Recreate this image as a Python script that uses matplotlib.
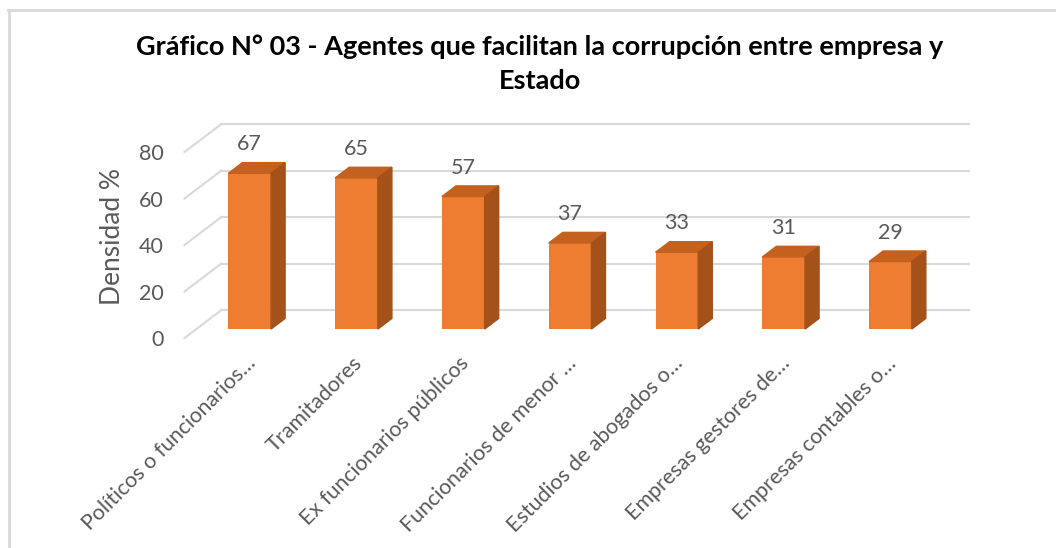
import matplotlib
matplotlib.use("Agg")
import matplotlib.pyplot as plt
from matplotlib.patches import Polygon
from matplotlib.lines import Line2D

# data
categories = [
    "Políticos o funcionarios…",
    "Tramitadores",
    "Ex funcionarios públicos",
    "Funcionarios de menor …",
    "Estudios de abogados o…",
    "Empresas gestores de…",
    "Empresas contables o…",
]
values = [67, 65, 57, 37, 33, 31, 29]
yticks = [0, 20, 40, 60, 80]

title = "Gráfico N° 03 - Agentes que facilitan la corrupción entre empresa y\nEstado"
ylabel = "Densidad %"

plt.rcParams['font.family'] = ['Lato', 'DejaVu Sans']

# fake 3D look: depth vector of the floor in data units
DX, DY = 0.346, 12.04
T0, TD = 0.32, 0.38       # bar front position / bar depth as fraction of floor depth
BW = 0.40                 # bar width

front = '#ED7D31'
top_c = '#C4611E'
side_c = '#A4511A'
grid_c = '#D9D9D9'
text_c = '#595959'

fig = plt.figure(figsize=(10.56, 5.48), dpi=100)
ax = fig.add_axes([0.1747, 0.3832, 0.7429, 0.3905])
n = len(values)
ax.set_xlim(-0.5, n - 0.5 + DX)
ax.set_ylim(0, max(yticks) + DY)
for s in ax.spines.values():
    s.set_visible(False)

# gridlines: diagonal on the left wall + horizontal on the back wall
for v in yticks:
    ax.plot([-0.5, -0.5 + DX], [v, v + DY], color=grid_c, lw=1.5, zorder=1, clip_on=False)
    ax.plot([-0.5 + DX, n - 0.5 + DX], [v + DY, v + DY], color=grid_c, lw=1.5, zorder=1, clip_on=False)

base = T0 * DY
ddx, ddy = TD * DX, TD * DY
for i, v in enumerate(values):
    xc = i + T0 * DX
    xl, xr = xc - BW / 2, xc + BW / 2
    ax.bar(xc, v, width=BW, bottom=base, color=front, zorder=3)
    ax.add_patch(Polygon([(xl, base + v), (xr, base + v), (xr + ddx, base + v + ddy),
                          (xl + ddx, base + v + ddy)], closed=True, color=top_c, zorder=3))
    ax.add_patch(Polygon([(xr, base), (xr + ddx, base + ddy), (xr + ddx, base + v + ddy),
                          (xr, base + v)], closed=True, color=side_c, zorder=3))
    ax.annotate(str(v), (xc, base + v + ddy), xytext=(0, 6), textcoords='offset points',
                ha='center', va='bottom', fontsize=15.5, color=text_c)
    ax.annotate(categories[i], (xc, 0), xytext=(-3, -11), textcoords='offset points',
                ha='right', va='top', rotation=45, rotation_mode='anchor',
                fontsize=15.5, color=text_c, annotation_clip=False)

ax.set_xticks([])
ax.set_yticks(yticks)
ax.set_yticklabels([str(t) for t in yticks], fontsize=15.5, color=text_c)
ax.tick_params(axis='y', length=0, pad=15)
ax.set_ylabel(ylabel, fontsize=19, color=text_c)
ax.yaxis.set_label_coords(-0.076, 1 - (236 - 124) / 214, transform=ax.transAxes)

fig.text(0.511, 0.938, title, ha='center', va='top', fontsize=19.5, fontweight='bold',
         color='black', linespacing=1.5)

# chart border (top and left visible)
fig.add_artist(Line2D([8 / 1056, 1], [1 - 9.5 / 548, 1 - 9.5 / 548], color=grid_c, lw=2))
fig.add_artist(Line2D([8.5 / 1056, 8.5 / 1056], [0, 1 - 9.5 / 548], color=grid_c, lw=2))

fig.savefig('out.png', dpi=100, facecolor='white')
